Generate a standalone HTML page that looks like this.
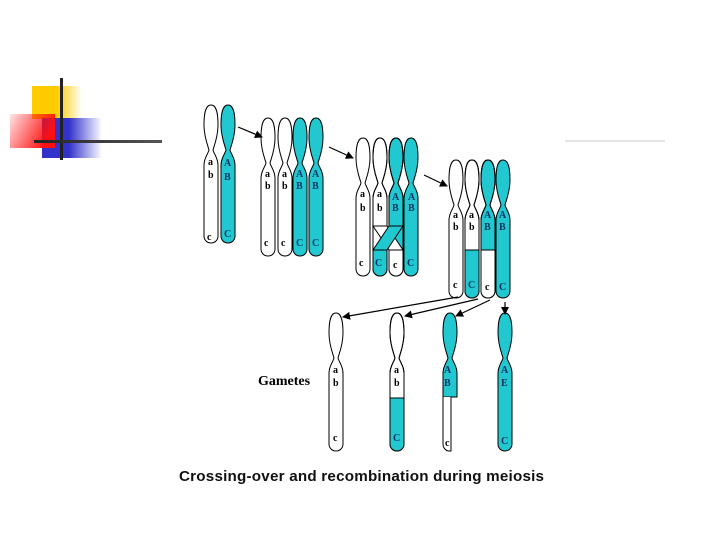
<!DOCTYPE html>
<html><head><style>
body{margin:0;width:720px;height:540px;background:#fff;overflow:hidden;position:relative}
svg{position:absolute;left:0;top:0}
.l{font-family:"Liberation Serif",serif;font-weight:bold;font-size:10px;fill:#000}
.lc{font-family:"Liberation Serif",serif;font-weight:bold;font-size:10px;fill:#036}
</style></head><body>
<svg width="720" height="540" viewBox="0 0 720 540">
<defs>
<path id="ch" d="M0,0 C6,0 7,10 7,20 C7,32 3,41 2,45 C3,49 7,53 7,60 L7,131 C7,135 4,138 0,138 C-4,138 -7,135 -7,131 L-7,60 C-7,53 -3,49 -2,45 C-3,41 -7,32 -7,20 C-7,10 -6,0 0,0 Z"/>
<clipPath id="cc"><use href="#ch"/></clipPath>
<linearGradient id="gy" x1="0" x2="1"><stop offset="0.5" stop-color="#ffcc00"/><stop offset="1" stop-color="#ffcc00" stop-opacity="0"/></linearGradient>
<linearGradient id="gb" x1="0" x2="1"><stop offset="0.45" stop-color="#3333cc"/><stop offset="1" stop-color="#3333cc" stop-opacity="0"/></linearGradient>
<linearGradient id="gr" x1="0" y1="0" x2="1" y2="0.4"><stop offset="0" stop-color="#ff0000" stop-opacity="0.1"/><stop offset="1" stop-color="#ff1010"/></linearGradient>
<linearGradient id="gl" x1="0" x2="1"><stop offset="0" stop-color="#222"/><stop offset="1" stop-color="#555"/></linearGradient>
<marker id="ar" markerWidth="8" markerHeight="8" refX="7" refY="4" orient="auto" markerUnits="userSpaceOnUse"><path d="M0,0 L8,4 L0,8 Z" fill="#000"/></marker>
</defs>
<!-- logo -->
<rect x="32" y="86" width="50" height="33" fill="url(#gy)"/>
<rect x="42" y="118" width="60" height="40" fill="url(#gb)"/>
<rect x="10" y="114" width="45" height="34" fill="url(#gr)"/>
<rect x="60" y="78" width="3" height="82" fill="#222"/>
<rect x="34" y="140" width="128" height="3" fill="url(#gl)"/>
<rect x="565" y="140" width="100" height="2" fill="#e4e4e4"/>

<g stroke="#000" stroke-width="1">
<!-- group1 -->
<use href="#ch" x="211" y="105" fill="#fff"/>
<use href="#ch" x="228" y="105" fill="#22c8d0"/>
<!-- group2 -->
<use href="#ch" x="268" y="118" fill="#fff"/>
<use href="#ch" x="285" y="118" fill="#fff"/>
<use href="#ch" x="300" y="118" fill="#22c8d0"/>
<use href="#ch" x="316" y="118" fill="#22c8d0"/>
<!-- group3 -->
<use href="#ch" x="363" y="138" fill="#fff"/>
<g transform="translate(380,138)"><use href="#ch" fill="#fff"/><rect x="-8" y="110" width="16" height="30" clip-path="url(#cc)" fill="#22c8d0" stroke="none"/><use href="#ch" fill="none"/></g>
<g transform="translate(396,138)"><use href="#ch" fill="#22c8d0"/><rect x="-8" y="110" width="16" height="30" clip-path="url(#cc)" fill="#fff" stroke="none"/><use href="#ch" fill="none"/></g>
<use href="#ch" x="411" y="138" fill="#22c8d0"/>
<path d="M373,226 L387,226 L403,250 L389,250 Z" fill="#fff"/>
<path d="M389,226 L403,226 L387,250 L373,250 Z" fill="#22c8d0"/>
<!-- group4 -->
<use href="#ch" x="456" y="160" fill="#fff"/>
<g transform="translate(472,160)"><use href="#ch" fill="#fff"/><rect x="-8" y="90" width="16" height="50" clip-path="url(#cc)" fill="#22c8d0" stroke="none"/><use href="#ch" fill="none"/><line x1="-7" y1="90" x2="7" y2="90"/></g>
<g transform="translate(488,160)"><use href="#ch" fill="#22c8d0"/><rect x="-8" y="90" width="16" height="50" clip-path="url(#cc)" fill="#fff" stroke="none"/><use href="#ch" fill="none"/><line x1="-7" y1="90" x2="7" y2="90"/></g>
<use href="#ch" x="503" y="160" fill="#22c8d0"/>
<!-- gametes -->
<use href="#ch" x="336" y="313" fill="#fff"/>
<g transform="translate(397,313)"><use href="#ch" fill="#fff"/><rect x="-8" y="85" width="16" height="55" clip-path="url(#cc)" fill="#22c8d0" stroke="none"/><use href="#ch" fill="none"/><line x1="-7" y1="85" x2="7" y2="85"/></g>
<g transform="translate(450,313)"><path d="M0,0 C6,0 7,10 7,20 C7,32 3,41 2,45 C3,49 7,53 7,60 L7,84 L-7,84 L-7,60 C-7,53 -3,49 -2,45 C-3,41 -7,32 -7,20 C-7,10 -6,0 0,0 Z" fill="#22c8d0"/><path d="M-7,84 L-7,131 C-7,135 -4,138 -1,138 L1,138 L1,84" fill="#fff"/></g>
<use href="#ch" x="505" y="313" fill="#22c8d0"/>
</g>

<!-- arrows -->
<g stroke="#000" stroke-width="1.2" fill="none" marker-end="url(#ar)">
<line x1="238" y1="127" x2="262" y2="137"/>
<line x1="329" y1="147" x2="353" y2="158"/>
<line x1="424" y1="175" x2="447" y2="186"/>
<line x1="458" y1="297" x2="343" y2="317"/>
<line x1="478" y1="299" x2="405" y2="316"/>
<line x1="490" y1="300" x2="456" y2="316"/>
<line x1="505" y1="302" x2="505" y2="314"/>
</g>

<!-- labels -->
<g class="l">
<text x="208" y="165">a</text><text x="208" y="178">b</text><text x="207" y="240">c</text>
<text x="224" y="166" class="lc">A</text><text x="224" y="180" class="lc">B</text><text x="224" y="237" class="lc">C</text>
<text x="265" y="177">a</text><text x="265" y="189">b</text><text x="264" y="246">c</text>
<text x="282" y="177">a</text><text x="282" y="189">b</text><text x="281" y="246">c</text>
<text x="296" y="177" class="lc">A</text><text x="296" y="189" class="lc">B</text><text x="296" y="246" class="lc">C</text>
<text x="312" y="177" class="lc">A</text><text x="312" y="189" class="lc">B</text><text x="312" y="246" class="lc">C</text>
<text x="360" y="197">a</text><text x="360" y="211">b</text><text x="359" y="266">c</text>
<text x="377" y="197">a</text><text x="377" y="211">b</text>
<text x="392" y="200" class="lc">A</text><text x="392" y="211" class="lc">B</text>
<text x="408" y="200" class="lc">A</text><text x="408" y="211" class="lc">B</text>
<text x="375" y="266" class="lc">C</text><text x="393" y="268">c</text><text x="407" y="266" class="lc">C</text>
<text x="453" y="218">a</text><text x="453" y="230">b</text><text x="453" y="288">c</text>
<text x="469" y="218">a</text><text x="469" y="230">b</text><text x="468" y="288" class="lc">C</text>
<text x="484" y="218" class="lc">A</text><text x="484" y="230" class="lc">B</text><text x="485" y="290">c</text>
<text x="499" y="218" class="lc">A</text><text x="499" y="230" class="lc">B</text><text x="499" y="290" class="lc">C</text>
<text x="333" y="373">a</text><text x="333" y="386">b</text><text x="333" y="441">c</text>
<text x="394" y="373">a</text><text x="394" y="386">b</text><text x="393" y="441" class="lc">C</text>
<text x="444" y="373" class="lc">A</text><text x="444" y="386" class="lc">B</text><text x="445" y="446">c</text>
<text x="501" y="373" class="lc">A</text><text x="501" y="386" class="lc">E</text><text x="501" y="444" class="lc">C</text>
</g>
<text x="258" y="385" style="font-family:'Liberation Serif',serif;font-weight:bold;font-size:14px">Gametes</text>
<text x="179" y="481" style="font-family:'Liberation Sans',sans-serif;font-size:15.2px;font-weight:bold;fill:#111" textLength="365">Crossing-over and recombination  during meiosis</text>
</svg>
</body></html>
